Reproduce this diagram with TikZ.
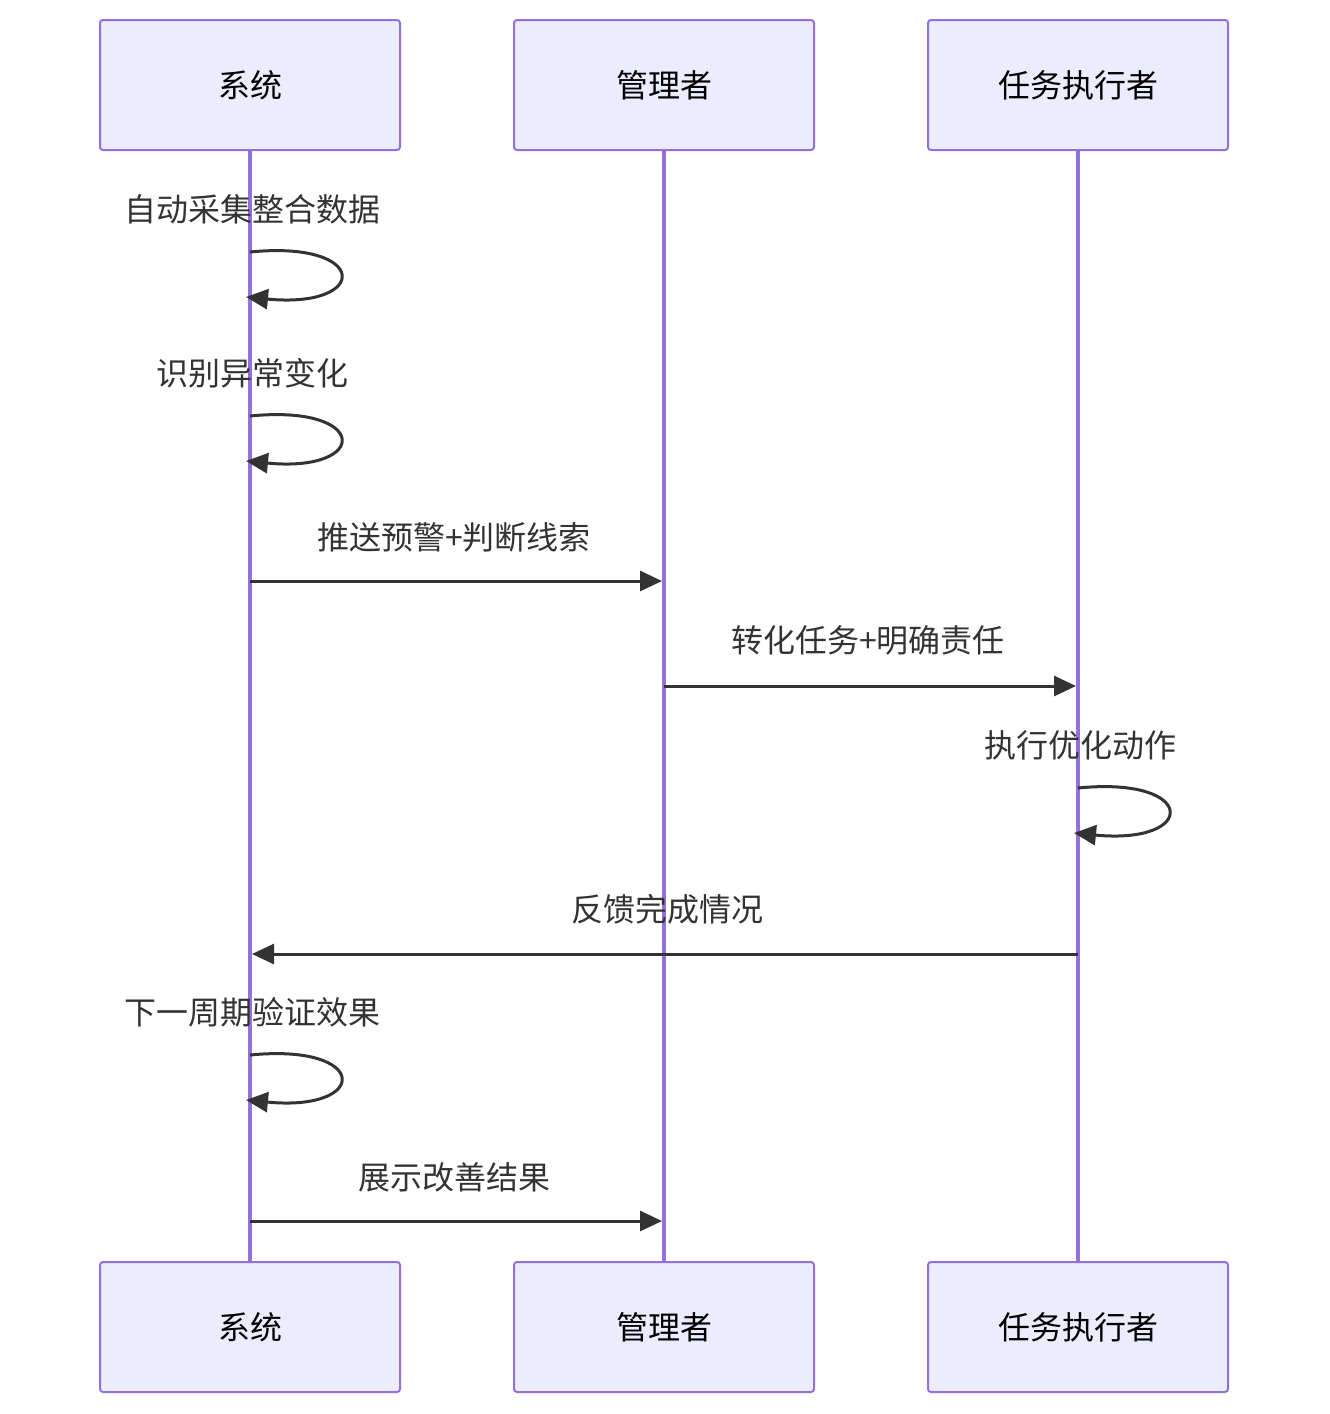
\documentclass[tikz,border=0pt]{standalone}
\usepackage{fontspec}
\setmainfont{Noto Sans CJK SC}
\usetikzlibrary{arrows.meta}
\definecolor{boxf}{HTML}{ECECFF}
\definecolor{boxd}{HTML}{9370DB}
\definecolor{ink}{HTML}{333333}
\begin{document}
\begin{tikzpicture}[x=1pt,y=-1pt,
 actor/.style={draw=boxd,fill=boxf,line width=2pt,rounded corners=3pt,minimum width=300pt,minimum height=130pt,font=\fontsize{32}{38}\selectfont,text=black},
 life/.style={draw=boxd,line width=3.5pt},
 msg/.style={draw=ink,line width=3pt,-{Triangle[length=22pt,width=20pt]}},
 lbl/.style={font=\fontsize{32}{38}\selectfont,text=ink}]
\useasboundingbox (0,0) rectangle (1330,1414);
\foreach \n/\x/\t in {a/250/系统,b/664/管理者,c/1078/任务执行者}{
 \draw[life] (\x,150) -- (\x,1262);
 \node[actor] (\n top) at (\x,85) {\t};
 \node[actor] (\n bot) at (\x,1327) {\t};
}
% self loops
\foreach \x/\y/\t/\nm in {250/252/自动采集整合数据/l1, 250/416/识别异常变化/l2, 1078/788/执行优化动作/l3, 250/1055/下一周期验证效果/l4}{
 \node[lbl] (\nm) at (\x+2,\y-43) {\t};
 \coordinate (\nm s) at (\x,\y);
 \coordinate (\nm e) at (\x-4,\y+45);
 \draw[msg] (\nm s) .. controls (\x+120,\y-12) and (\x+120,\y+57) .. (\nm e);
}
\coordinate (m1s) at (250,581); \coordinate (m1e) at (662,581);
\node[lbl] (t1) at (454,537) {推送预警+判断线索};
\draw[msg] (m1s) -- (m1e);
\coordinate (m2s) at (664,686); \coordinate (m2e) at (1076,686);
\node[lbl] (t2) at (868,640) {转化任务+明确责任};
\draw[msg] (m2s) -- (m2e);
\coordinate (m3s) at (1078,954); \coordinate (m3e) at (252,954);
\node[lbl] (t3) at (667,909) {反馈完成情况};
\draw[msg] (m3s) -- (m3e);
\coordinate (m4s) at (250,1221); \coordinate (m4e) at (662,1221);
\node[lbl] (t4) at (454,1177) {展示改善结果};
\draw[msg] (m4s) -- (m4e);
\end{tikzpicture}
\end{document}
